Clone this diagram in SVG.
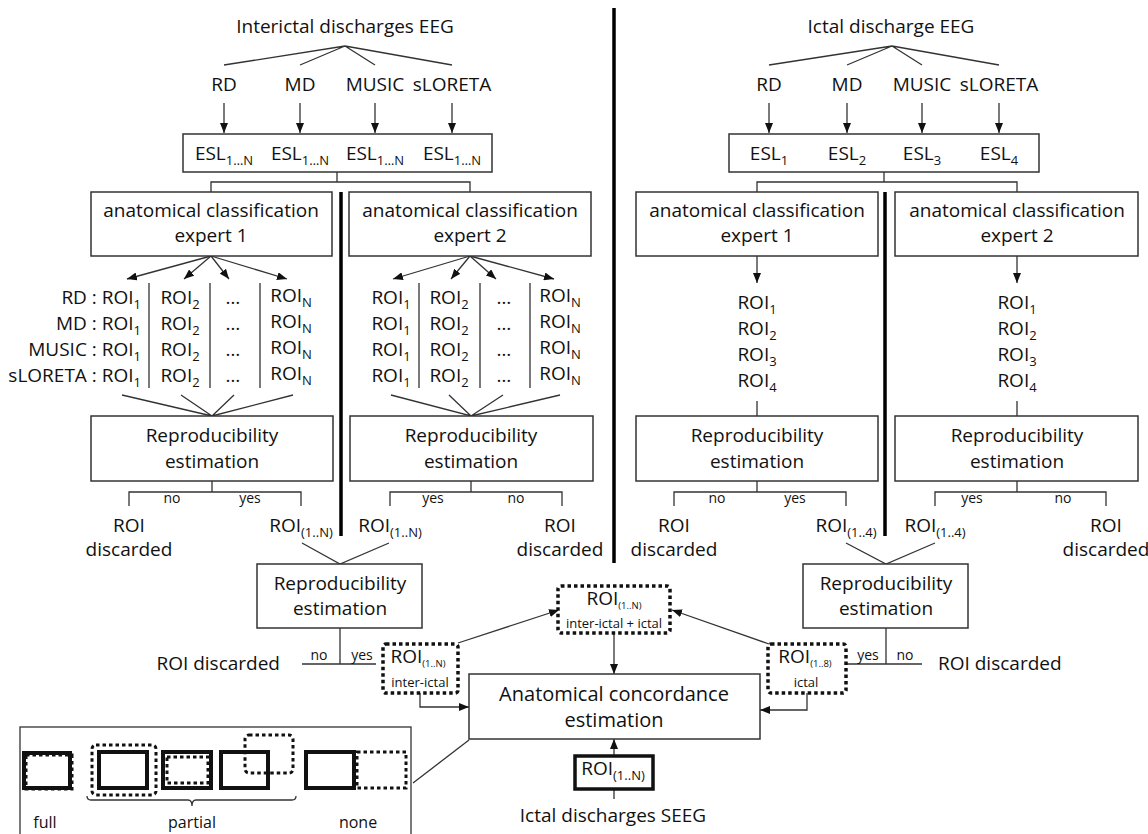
<svg xmlns="http://www.w3.org/2000/svg" width="1148" height="834" viewBox="0 0 1148 834">
<defs>
<style>
text{font-family:"Open Sans","Liberation Sans",sans-serif;fill:#111;font-size:19px;text-anchor:middle}
.s{font-size:14px}
.xs{font-size:13px}
.sub{font-size:13px}
.sub9{font-size:9.5px}
.box{fill:#fff;stroke:#333;stroke-width:1.5}
.ln{stroke:#333;stroke-width:1.3;fill:none}
.thick{stroke:#000;stroke-width:3.5}
.dot{fill:#fff;stroke:#111;stroke-width:3.5;stroke-dasharray:3.5 3}
.ldot{fill:none;stroke:#111;stroke-width:3;stroke-dasharray:3.5 3}
.lsol{fill:none;stroke:#111;stroke-width:4}
.e{text-anchor:end}
.st{text-anchor:start}
</style>
<marker id="ah" viewBox="0 0 10 8" refX="10" refY="4" markerWidth="10" markerHeight="8" markerUnits="userSpaceOnUse" orient="auto"><path d="M0,0 L10,4 L0,8 z" fill="#111"/></marker>
</defs>
<rect width="1148" height="834" fill="#fff"/>

<g id="separators">
<line class="thick" x1="614" y1="8" x2="614" y2="563"/>
<line class="thick" x1="341" y1="192" x2="341" y2="536"/>
<line class="thick" x1="885" y1="192" x2="885" y2="536"/>
</g>

<g id="connectors">
<path class="ln" d="M224,65 L345,46 L300,65 M345,46 L375,65 M345,46 L452,65"/>
<line class="ln" x1="224" y1="103" x2="224" y2="133" marker-end="url(#ah)"/>
<line class="ln" x1="300" y1="103" x2="300" y2="133" marker-end="url(#ah)"/>
<line class="ln" x1="375" y1="103" x2="375" y2="133" marker-end="url(#ah)"/>
<line class="ln" x1="452" y1="103" x2="452" y2="133" marker-end="url(#ah)"/>
<path class="ln" d="M337,172 V182 M211,192 V182 H470 V192"/>
<path class="ln" d="M769,65 L892,46 L847,65 M892,46 L922,65 M892,46 L999,65"/>
<line class="ln" x1="769" y1="103" x2="769" y2="133" marker-end="url(#ah)"/>
<line class="ln" x1="847" y1="103" x2="847" y2="133" marker-end="url(#ah)"/>
<line class="ln" x1="922" y1="103" x2="922" y2="133" marker-end="url(#ah)"/>
<line class="ln" x1="999" y1="103" x2="999" y2="133" marker-end="url(#ah)"/>
<path class="ln" d="M884,172 V182 M757,192 V182 H1017 V192"/>
<line class="ln" x1="211" y1="256" x2="127" y2="279" marker-end="url(#ah)"/>
<line class="ln" x1="211" y1="256" x2="184" y2="279" marker-end="url(#ah)"/>
<line class="ln" x1="211" y1="256" x2="229" y2="279" marker-end="url(#ah)"/>
<line class="ln" x1="211" y1="256" x2="287" y2="279" marker-end="url(#ah)"/>
<line class="ln" x1="470" y1="256" x2="393" y2="279" marker-end="url(#ah)"/>
<line class="ln" x1="470" y1="256" x2="451" y2="279" marker-end="url(#ah)"/>
<line class="ln" x1="470" y1="256" x2="496" y2="279" marker-end="url(#ah)"/>
<line class="ln" x1="470" y1="256" x2="554" y2="279" marker-end="url(#ah)"/>
<line class="ln" x1="757" y1="256" x2="757" y2="283" marker-end="url(#ah)"/>
<line class="ln" x1="1017" y1="256" x2="1017" y2="283" marker-end="url(#ah)"/>
<path class="ln" d="M149,283 V388 M210,283 V388 M260,283 V388 M419,283 V388 M480,283 V388 M530,283 V388"/>
<path class="ln" d="M122,395 L212,416 L181,395 M212,416 L234,395 M212,416 L293,395"/>
<path class="ln" d="M391,395 L471,416 L449,395 M471,416 L503,395 M471,416 L560,395"/>
<path class="ln" d="M757,401 V416 M1017,401 V416"/>
<path class="ln" d="M212,481 V492 M129,506 V492 H301 V506"/>
<path class="ln" d="M471,481 V492 M390,506 V492 H562 V506"/>
<path class="ln" d="M757,481 V492 M674,506 V492 H846 V506"/>
<path class="ln" d="M1017,481 V492 M935,506 V492 H1106 V506"/>
<path class="ln" d="M302,543 L340,564 L389,543"/>
<path class="ln" d="M846,543 L886,564 L935,543"/>
<path class="ln" d="M340,628 V664 M302,664 H376"/>
<path class="ln" d="M886,628 V664 M847,664 H922"/>
<line class="ln" x1="458" y1="643" x2="559" y2="610" marker-end="url(#ah)"/>
<line class="ln" x1="769" y1="644" x2="672" y2="610" marker-end="url(#ah)"/>
<line class="ln" x1="614" y1="633" x2="614" y2="674" marker-end="url(#ah)"/>
<path class="ln" d="M420,693 V707 H469" marker-end="url(#ah)"/>
<path class="ln" d="M807,693 V710 H760" marker-end="url(#ah)"/>
<line class="ln" x1="614" y1="756" x2="614" y2="739" marker-end="url(#ah)"/>
<line class="ln" x1="614" y1="789" x2="614" y2="799"/>
<line class="ln" x1="413" y1="783" x2="469" y2="740"/>
</g>

<g id="title-interictal"><text x="345" y="33">Interictal discharges EEG</text></g>
<g id="methods-left">
<text x="224" y="91">RD</text><text x="300" y="91">MD</text><text x="375" y="91">MUSIC</text><text x="452" y="91">sLORETA</text>
</g>
<g id="esl-left">
<rect class="box" x="183" y="134" width="309" height="38"/>
<text x="224" y="160">ESL<tspan class="sub" dy="5">1…N</tspan></text>
<text x="300" y="160">ESL<tspan class="sub" dy="5">1…N</tspan></text>
<text x="375" y="160">ESL<tspan class="sub" dy="5">1…N</tspan></text>
<text x="452" y="160">ESL<tspan class="sub" dy="5">1…N</tspan></text>
</g>
<g id="expert1-left"><rect class="box" x="91" y="192" width="241" height="64"/>
<text x="211" y="217">anatomical classification</text><text x="211" y="242">expert 1</text></g>
<g id="expert2-left"><rect class="box" x="349" y="192" width="242" height="64"/>
<text x="470" y="217">anatomical classification</text><text x="470" y="242">expert 2</text></g>

<g id="table-left">
<text class="e" x="141" y="304">RD : ROI<tspan class="sub" dy="5">1</tspan></text>
<text class="e" x="141" y="330">MD : ROI<tspan class="sub" dy="5">1</tspan></text>
<text class="e" x="141" y="356">MUSIC : ROI<tspan class="sub" dy="5">1</tspan></text>
<text class="e" x="141" y="382">sLORETA : ROI<tspan class="sub" dy="5">1</tspan></text>
<text x="180" y="304">ROI<tspan class="sub" dy="5">2</tspan></text>
<text x="180" y="330">ROI<tspan class="sub" dy="5">2</tspan></text>
<text x="180" y="356">ROI<tspan class="sub" dy="5">2</tspan></text>
<text x="180" y="382">ROI<tspan class="sub" dy="5">2</tspan></text>
<text x="233" y="304">…</text><text x="233" y="330">…</text><text x="233" y="356">…</text><text x="233" y="382">…</text>
<text x="291" y="302">ROI<tspan class="sub" dy="5">N</tspan></text>
<text x="291" y="328">ROI<tspan class="sub" dy="5">N</tspan></text>
<text x="291" y="354">ROI<tspan class="sub" dy="5">N</tspan></text>
<text x="291" y="380">ROI<tspan class="sub" dy="5">N</tspan></text>
</g>
<g id="table-right">
<text x="391" y="304">ROI<tspan class="sub" dy="5">1</tspan></text>
<text x="391" y="330">ROI<tspan class="sub" dy="5">1</tspan></text>
<text x="391" y="356">ROI<tspan class="sub" dy="5">1</tspan></text>
<text x="391" y="382">ROI<tspan class="sub" dy="5">1</tspan></text>
<text x="449" y="304">ROI<tspan class="sub" dy="5">2</tspan></text>
<text x="449" y="330">ROI<tspan class="sub" dy="5">2</tspan></text>
<text x="449" y="356">ROI<tspan class="sub" dy="5">2</tspan></text>
<text x="449" y="382">ROI<tspan class="sub" dy="5">2</tspan></text>
<text x="504" y="304">…</text><text x="504" y="330">…</text><text x="504" y="356">…</text><text x="504" y="382">…</text>
<text x="560" y="302">ROI<tspan class="sub" dy="5">N</tspan></text>
<text x="560" y="328">ROI<tspan class="sub" dy="5">N</tspan></text>
<text x="560" y="354">ROI<tspan class="sub" dy="5">N</tspan></text>
<text x="560" y="380">ROI<tspan class="sub" dy="5">N</tspan></text>
</g>

<g id="repro-left-1"><rect class="box" x="91" y="416" width="242" height="65"/>
<text x="212" y="442">Reproducibility</text><text x="212" y="468">estimation</text></g>
<g id="repro-left-2"><rect class="box" x="350" y="416" width="243" height="65"/>
<text x="471" y="442">Reproducibility</text><text x="471" y="468">estimation</text></g>

<g id="branches-left">
<text class="s" x="172" y="503">no</text><text class="s" x="250" y="503">yes</text>
<text x="129" y="532">ROI</text><text x="129" y="556">discarded</text>
<text x="301" y="532">ROI<tspan class="sub" dy="5">(1..N)</tspan></text>
<text class="s" x="433" y="503">yes</text><text class="s" x="516" y="503">no</text>
<text x="390" y="532">ROI<tspan class="sub" dy="5">(1..N)</tspan></text>
<text x="560" y="532">ROI</text><text x="560" y="556">discarded</text>
</g>

<g id="title-ictal"><text x="891" y="33">Ictal discharge EEG</text></g>
<g id="methods-right">
<text x="769" y="91">RD</text><text x="847" y="91">MD</text><text x="922" y="91">MUSIC</text><text x="999" y="91">sLORETA</text>
</g>
<g id="esl-right">
<rect class="box" x="729" y="134" width="310" height="38"/>
<text x="769" y="160">ESL<tspan class="sub" dy="5">1</tspan></text>
<text x="847" y="160">ESL<tspan class="sub" dy="5">2</tspan></text>
<text x="922" y="160">ESL<tspan class="sub" dy="5">3</tspan></text>
<text x="999" y="160">ESL<tspan class="sub" dy="5">4</tspan></text>
</g>
<g id="expert1-right"><rect class="box" x="636" y="192" width="242" height="64"/>
<text x="757" y="217">anatomical classification</text><text x="757" y="242">expert 1</text></g>
<g id="expert2-right"><rect class="box" x="895" y="192" width="243" height="64"/>
<text x="1017" y="217">anatomical classification</text><text x="1017" y="242">expert 2</text></g>

<g id="list-right-1">
<text x="757" y="309">ROI<tspan class="sub" dy="5">1</tspan></text>
<text x="757" y="335">ROI<tspan class="sub" dy="5">2</tspan></text>
<text x="757" y="361">ROI<tspan class="sub" dy="5">3</tspan></text>
<text x="757" y="387">ROI<tspan class="sub" dy="5">4</tspan></text>
</g>
<g id="list-right-2">
<text x="1017" y="309">ROI<tspan class="sub" dy="5">1</tspan></text>
<text x="1017" y="335">ROI<tspan class="sub" dy="5">2</tspan></text>
<text x="1017" y="361">ROI<tspan class="sub" dy="5">3</tspan></text>
<text x="1017" y="387">ROI<tspan class="sub" dy="5">4</tspan></text>
</g>

<g id="repro-right-1"><rect class="box" x="636" y="416" width="242" height="65"/>
<text x="757" y="442">Reproducibility</text><text x="757" y="468">estimation</text></g>
<g id="repro-right-2"><rect class="box" x="895" y="416" width="243" height="65"/>
<text x="1017" y="442">Reproducibility</text><text x="1017" y="468">estimation</text></g>

<g id="branches-right">
<text class="s" x="717" y="503">no</text><text class="s" x="795" y="503">yes</text>
<text x="674" y="532">ROI</text><text x="674" y="556">discarded</text>
<text x="846" y="532">ROI<tspan class="sub" dy="5">(1..4)</tspan></text>
<text class="s" x="972" y="503">yes</text><text class="s" x="1063" y="503">no</text>
<text x="935" y="532">ROI<tspan class="sub" dy="5">(1..4)</tspan></text>
<text x="1106" y="532">ROI</text><text x="1106" y="556">discarded</text>
</g>

<g id="repro-interictal"><rect class="box" x="257" y="564" width="165" height="64"/>
<text x="340" y="590">Reproducibility</text><text x="340" y="615">estimation</text></g>
<g id="branch-interictal">
<text class="s" x="319" y="660">no</text><text class="s" x="362" y="660">yes</text>
<text class="e" x="280" y="670">ROI discarded</text>
</g>
<g id="repro-ictal"><rect class="box" x="803" y="564" width="165" height="64"/>
<text x="886" y="590">Reproducibility</text><text x="886" y="615">estimation</text></g>
<g id="branch-ictal">
<text class="s" x="868" y="660">yes</text><text class="s" x="905" y="660">no</text>
<text class="st" x="938" y="670">ROI discarded</text>
</g>

<g id="roi-interictal"><rect class="dot" x="383" y="644" width="75" height="49" rx="3"/>
<text x="418" y="663">ROI<tspan class="sub9" dy="4">(1..N)</tspan></text>
<text class="xs" x="420" y="687">inter-ictal</text></g>
<g id="roi-ictal"><rect class="dot" x="768" y="644" width="78" height="49" rx="3"/>
<text x="805" y="663">ROI<tspan class="sub9" dy="4">(1..8)</tspan></text>
<text class="xs" x="806" y="687">ictal</text></g>
<g id="roi-combined"><rect class="dot" x="558" y="586" width="112" height="47" rx="3"/>
<text x="614" y="605">ROI<tspan class="sub9" dy="4">(1..N)</tspan></text>
<text class="xs" x="614" y="628">inter-ictal + ictal</text></g>

<g id="concordance"><rect class="box" x="469" y="674" width="291" height="65"/>
<text x="614" y="701" style="font-size:20px">Anatomical concordance</text>
<text x="614" y="727" style="font-size:20px">estimation</text></g>

<g id="roi-seeg"><rect fill="#fff" stroke="#111" stroke-width="3.5" x="575" y="756" width="78" height="33"/>
<text x="613" y="775">ROI<tspan class="sub" dy="5">(1..N)</tspan></text></g>
<g id="seeg-label"><text x="613" y="822">Ictal discharges SEEG</text></g>

<g id="legend">
<rect class="ln" x="20" y="727" width="391" height="130"/>
<rect class="lsol" x="24" y="753" width="46" height="35"/>
<rect class="ldot" x="26" y="755" width="46" height="34"/>
<rect class="ldot" x="92" y="745" width="64" height="50" rx="4"/>
<rect class="lsol" x="99" y="752" width="48" height="36"/>
<rect class="lsol" x="163" y="752" width="48" height="36"/>
<rect class="ldot" x="167" y="757" width="41" height="26"/>
<rect class="lsol" x="221" y="752" width="47" height="36"/>
<rect class="ldot" x="245" y="735" width="48" height="38" rx="4"/>
<rect class="lsol" x="306" y="752" width="48" height="36"/>
<rect class="ldot" x="357" y="752" width="49" height="36"/>
<path class="ln" d="M87,796 Q87,800 91,800 L188,800 Q192,800 192,806 Q192,800 196,800 L292,800 Q296,800 296,796"/>
<text x="45" y="828" style="font-size:16px">full</text>
<text x="192" y="828" style="font-size:16px">partial</text>
<text x="358" y="828" style="font-size:16px">none</text>
</g>
</svg>
